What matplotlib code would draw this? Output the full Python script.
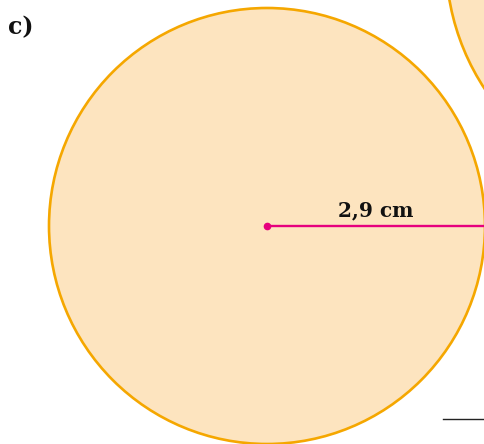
import matplotlib
matplotlib.use("Agg")
import matplotlib.pyplot as plt
from matplotlib.patches import Circle

# Bild in Pixelkoordinaten
width, height = 484, 444

label = "c)"
radius_label = "2,9 cm"

# Kreise: Mittelpunkt (x, y) und Radius in Pixeln
main_center = (267, 226)
main_radius = 218
side_center = (680, -40)
side_radius = 234

fill_color = "#FDE4BF"
edge_color = "#F5A700"
radius_color = "#E6007E"

fig = plt.figure(figsize=(width / 100, height / 100), dpi=100)
ax = fig.add_axes([0, 0, 1, 1])
ax.set_xlim(0, width)
ax.set_ylim(height, 0)
ax.set_aspect("equal")
ax.axis("off")

ax.add_patch(Circle(side_center, side_radius, facecolor=fill_color,
                    edgecolor=edge_color, linewidth=1.9))
ax.add_patch(Circle(main_center, main_radius, facecolor=fill_color,
                    edgecolor=edge_color, linewidth=1.9))

# Radius
ax.plot([main_center[0], main_center[0] + main_radius],
        [main_center[1], main_center[1]], color=radius_color, linewidth=1.7)
ax.plot(main_center[0], main_center[1], "o", color=radius_color, markersize=4.5)
ax.text(main_center[0] + main_radius / 2, main_center[1] - 6, radius_label,
        ha="center", va="bottom", fontsize=14.5, fontweight="bold",
        family="DejaVu Serif", color="#111111")

ax.text(8, 27, label, ha="left", va="center", fontsize=17,
        fontweight="bold", family="DejaVu Serif", color="#111111")

# Linie unten rechts
ax.plot([443, 484], [418.5, 418.5], color="#222222", linewidth=1.0)

fig.savefig("out.png", dpi=100)
